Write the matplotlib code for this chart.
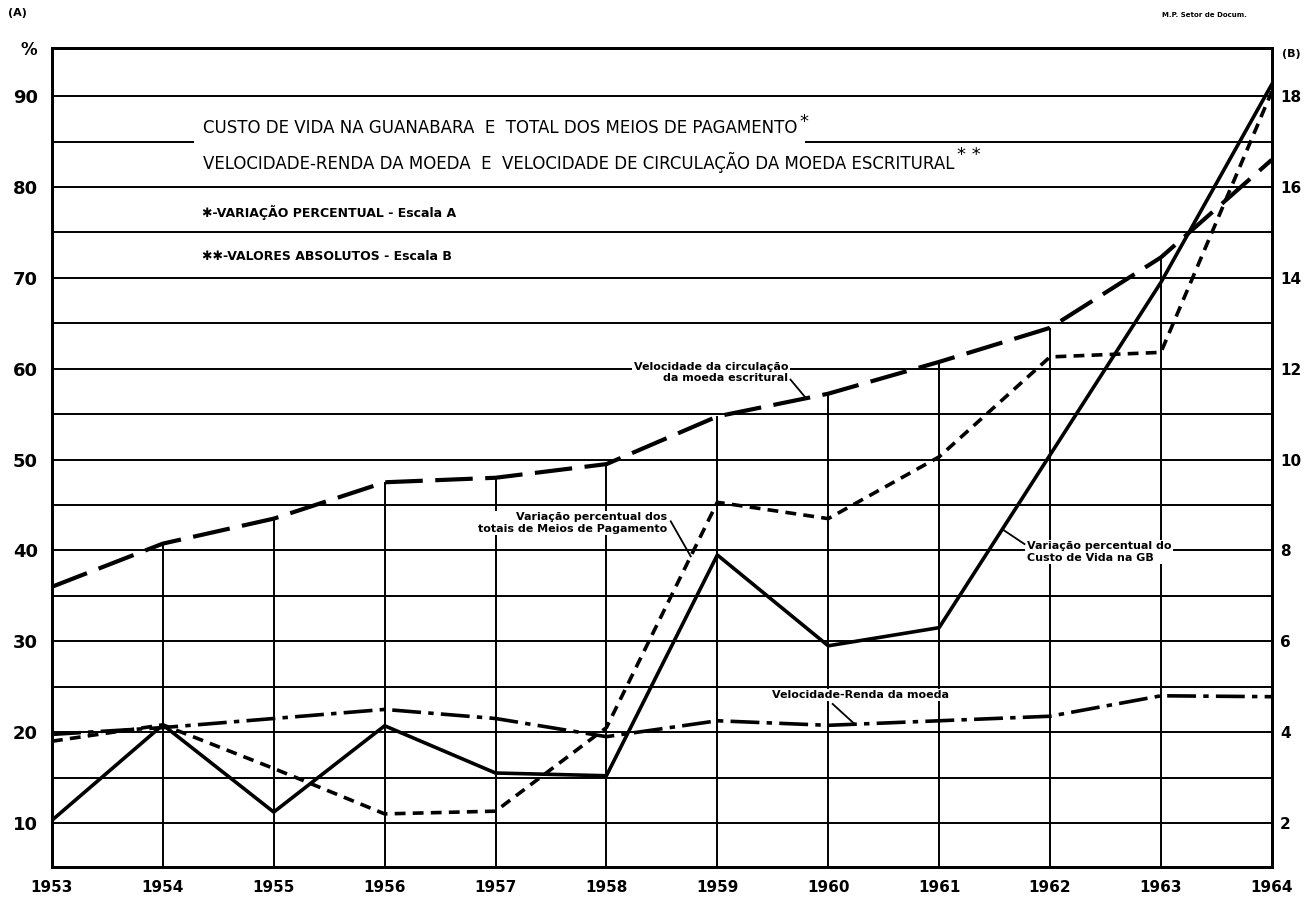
import numpy as np
import matplotlib
matplotlib.use("Agg")
from matplotlib import pyplot as plt

years = np.arange(1953, 1965)
year_labels = [str(y) for y in years]

# escala A (%)
custo_vida = [10.3, 20.8, 11.2, 20.7, 15.5, 15.2, 39.5, 29.5, 31.5, 50.5, 69.5, 91.3]
meios_pag = [19.0, 20.8, 16.0, 11.0, 11.3, 20.5, 45.3, 43.5, 50.3, 61.3, 61.8, 90.5]
# escala B (valores absolutos)
vel_renda = [3.95, 4.1, 4.3, 4.5, 4.3, 3.9, 4.25, 4.15, 4.25, 4.35, 4.8, 4.78]
vel_circ = [7.2, 8.15, 8.7, 9.5, 9.6, 9.9, 10.95, 11.45, 12.15, 12.9, 14.45, 16.6]

ticks_a = [10, 20, 30, 40, 50, 60, 70, 80, 90]
ticks_b = [2, 4, 6, 8, 10, 12, 14, 16, 18]

plt.rcParams['font.family'] = ['DejaVu Sans']

ylo, yhi = 5.15, 95.3

fig = plt.figure(figsize=(13.06, 9.06), dpi=100)
ax = fig.add_axes([0.0398, 0.043, 0.934, 0.904])
ax2 = ax.twinx()

ax.set_xlim(1953, 1964)
ax.set_ylim(ylo, yhi)
ax2.set_ylim(ylo / 5, yhi / 5)

# grade horizontal
for v in np.arange(10, 95, 5):
    ax.axhline(v, color='black', lw=1.4, zorder=1)
# linhas verticais ate a curva superior
ax.vlines(years, ylo, np.array(vel_circ) * 5, color='black', lw=1.4, zorder=1)

ax.plot(years, custo_vida, color='black', lw=2.6, zorder=4)
ax.plot(years, meios_pag, color='black', lw=2.6, dashes=(3, 2), zorder=4)
ax2.plot(years, vel_circ, color='black', lw=3, dashes=(9, 3), zorder=4)
ax2.plot(years, vel_renda, color='black', lw=2.6, dashes=(8, 2, 1.5, 2), zorder=4)

for a in (ax, ax2):
    for s in a.spines.values():
        s.set_linewidth(2)
    a.tick_params(length=0)

ax.set_xticks(years)
ax.set_xticklabels(year_labels, fontsize=11, fontweight='bold')
ax.tick_params(axis='x', pad=9)
ax.set_yticks(ticks_a)
ax.set_yticklabels([str(t) for t in ticks_a], fontsize=13, fontweight='bold')
ax.tick_params(axis='y', pad=10)
ax2.set_yticks(ticks_b)
ax2.set_yticklabels([str(t) for t in ticks_b], fontsize=11, fontweight='bold')
ax2.tick_params(axis='y', pad=6)

fig.text(0.006, 0.986, '(A)', fontsize=8, fontweight='bold', va='center')
fig.text(0.016, 0.945, '%', fontsize=12, fontweight='bold', va='center')
fig.text(0.982, 0.940, '(B)', fontsize=8, fontweight='bold', va='center')
fig.text(0.955, 0.983, 'M.P. Setor de Docum.', fontsize=5, fontweight='bold',
         ha='right', va='center')

# titulos
box = dict(facecolor='white', edgecolor='none', pad=6)
t1 = ax.text(1954.36, 86.5, 'CUSTO DE VIDA NA GUANABARA  E  TOTAL DOS MEIOS DE PAGAMENTO',
             fontsize=12, va='center', ha='left', bbox=box, zorder=3)
t2 = ax.text(1954.36, 82.7, 'VELOCIDADE-RENDA DA MOEDA  E  VELOCIDADE DE CIRCULAÇÃO DA MOEDA ESCRITURAL',
             fontsize=12, va='center', ha='left', bbox=box, zorder=3)
ax.annotate('*', xy=(1.0, 1.0), xycoords=t1, xytext=(2, 4), textcoords='offset points',
            fontsize=13, va='top', ha='left', zorder=3)
ax.annotate('* *', xy=(1.0, 1.0), xycoords=t2, xytext=(2, 4), textcoords='offset points',
            fontsize=13, va='top', ha='left', zorder=3)
ax.text(1954.35, 77.2, '✱-VARIAÇÃO PERCENTUAL - Escala A', fontsize=9, fontweight='bold',
        va='center', ha='left', zorder=3)
ax.text(1954.35, 72.3, '✱✱-VALORES ABSOLUTOS - Escala B', fontsize=9, fontweight='bold',
        va='center', ha='left', zorder=3)

a_box = dict(facecolor='white', edgecolor='none', pad=1)


def label(text, xy_text, start, x_end, series, ha):
    ax.text(xy_text[0], xy_text[1], text, ha=ha, va='center', multialignment=ha,
            fontsize=8, fontweight='bold', bbox=a_box, zorder=3)
    y_end = np.interp(x_end, years, series)
    ax.plot([start[0], x_end], [start[1], y_end], color='black', lw=1.3, zorder=3)


label('Velocidade da circulação\nda moeda escritural', (1959.64, 59.6), (1959.66, 58.8),
      1959.8, np.array(vel_circ) * 5, 'right')
label('Variação percentual dos\ntotais de Meios de Pagamento', (1958.55, 43.0), (1958.58, 43.2),
      1958.76, meios_pag, 'right')
label('Variação percentual do\nCusto de Vida na GB', (1961.79, 39.8), (1961.77, 40.7),
      1961.57, custo_vida, 'left')
label('Velocidade-Renda da moeda', (1959.49, 24.1), (1960.04, 23.1),
      1960.24, np.array(vel_renda) * 5, 'left')

fig.savefig('out.png', dpi=100, facecolor='white')
